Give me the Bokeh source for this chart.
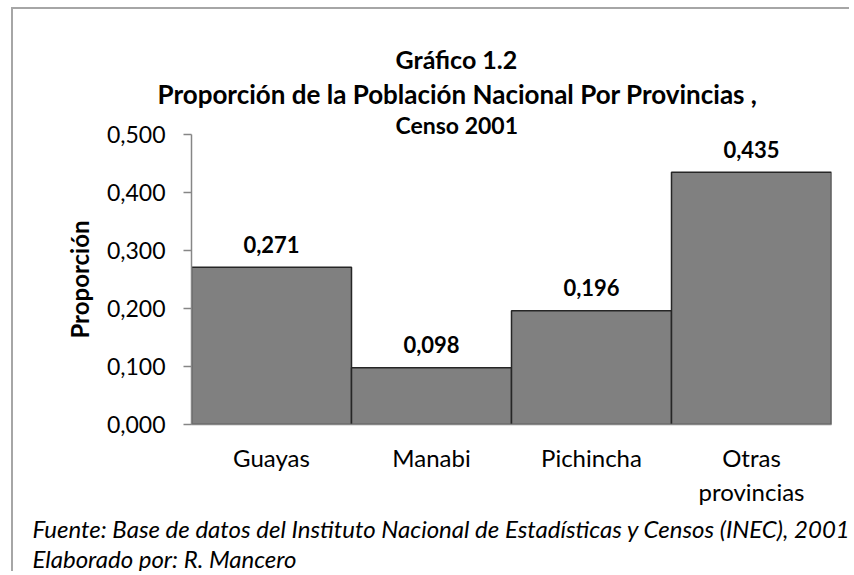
from bokeh.plotting import figure
from bokeh.models import Title, FactorRange, CustomJSTickFormatter, FixedTicker, Range1d
from bokeh.core.properties import value
from bokeh.embed import file_html
from bokeh.resources import INLINE

categories = ["Guayas", "Manabi", "Pichincha", "Otras\nprovincias"]
proportions = [0.271, 0.098, 0.196, 0.435]
value_labels = ["0,271", "0,098", "0,196", "0,435"]
y_ticks = [0.0, 0.1, 0.2, 0.3, 0.4, 0.5]

FONT = "Lato"
OX, OY = 13, 9          # page position of the canvas origin
W, H = 838, 564
FL, FB = 191, 424       # page position of frame left / bottom

p = figure(width=W, height=H, x_range=FactorRange(*categories), y_range=Range1d(0, 0.5),
           output_backend="svg", toolbar_location=None,
           min_border_left=FL - OX, min_border_right=W - (831 - OX),
           min_border_top=134 - OY, min_border_bottom=H - (FB - OY),
           styles={"border-left": "2px solid #a6a6a6", "border-top": "2px solid #a6a6a6",
                   "margin-left": "11px", "margin-top": "7px"})
p.outline_line_color = None
p.xgrid.grid_line_color = None
p.ygrid.grid_line_color = None
p.x_range.range_padding = 0

p.vbar(x=categories, top=proportions, width=1.0, fill_color="#808080",
       line_color="#262626", line_width=1.5)

p.text(x=categories, y=proportions, text=value_labels, text_font=value(FONT),
       text_font_style="bold", text_font_size="22px", text_align="center",
       text_baseline="alphabetic", y_offset=-23, text_color="#000000")

ya = p.yaxis[0]
ya.ticker = FixedTicker(ticks=y_ticks)
ya.formatter = CustomJSTickFormatter(code="return tick.toFixed(3).replace('.', ',');")
ya.axis_line_color = "#868686"
ya.axis_line_width = 1.5
ya.major_tick_line_color = "#868686"
ya.major_tick_line_width = 1.5
ya.major_tick_out = 8
ya.major_tick_in = 0
ya.minor_tick_line_color = None
ya.major_label_text_font = FONT
ya.major_label_text_font_size = "23px"
ya.major_label_text_color = "#000000"
ya.major_label_standoff = 18
ya.axis_label = "Proporción"
ya.axis_label_text_font = FONT
ya.axis_label_text_font_style = "bold"
ya.axis_label_text_font_size = "24px"
ya.axis_label_text_color = "#000000"
ya.axis_label_standoff = 10

xa = p.xaxis[0]
xa.axis_line_color = "#868686"
xa.axis_line_width = 1.5
xa.major_tick_line_color = None
xa.minor_tick_line_color = None
xa.major_label_text_font = FONT
xa.major_label_text_font_size = "24px"
xa.major_label_text_color = "#000000"
xa.major_label_standoff = 12

def title(text, side, xp, size, style, standoff):
    p.add_layout(Title(text=text, align="left", offset=xp - FL, standoff=standoff,
                       text_font=FONT, text_font_size=size, text_font_style=style,
                       text_color="#000000"), side)

# above: first added sits closest to the plot
title("Censo 2001", "above", 395, "23px", "bold", -8)
title("Proporción de la Población Nacional Por Provincias ,", "above", 157, "26px", "bold", 6)
title("Gráfico  1.2", "above", 395, "25px", "bold", -2)

# below: after the x axis
title("Fuente: Base de datos del Instituto Nacional de Estadísticas y Censos  (INEC), 2001",
      "below", 32, "24px", "italic", 4)
title("Elaborado por: R. Mancero", "below", 32, "24px", "italic", -6)

open("out.html", "w").write(file_html(p, INLINE))
